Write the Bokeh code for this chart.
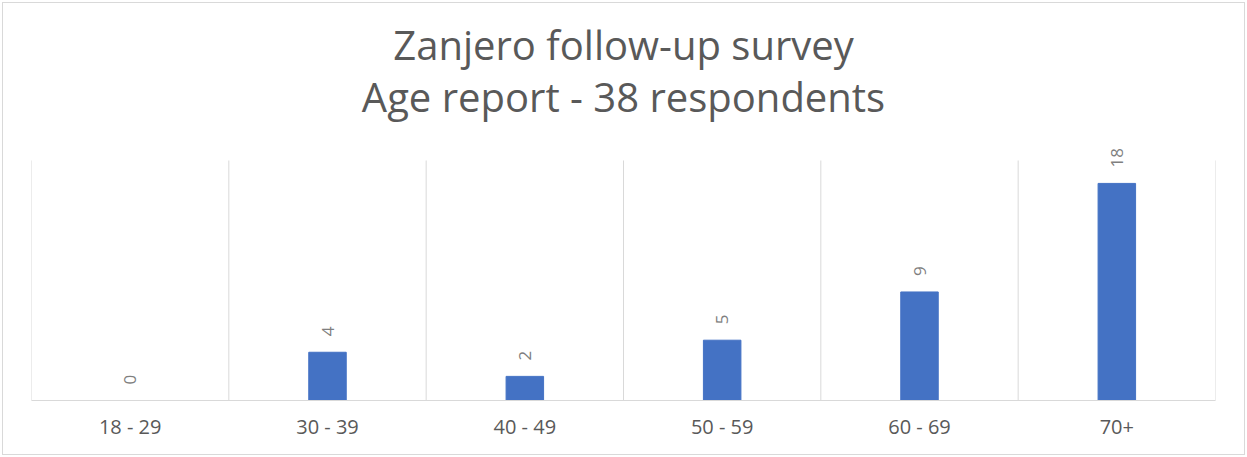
from bokeh.plotting import figure
from bokeh.models import Range1d, FixedTicker, Label
from bokeh.core.properties import value
from bokeh.embed import file_html
from bokeh.resources import INLINE
import math

categories = ["18 - 29", "30 - 39", "40 - 49", "50 - 59", "60 - 69", "70+"]
counts = [0, 4, 2, 5, 9, 18]
title_line1 = "Zanjero follow-up survey"
title_line2 = "Age report - 38 respondents"

FONT = "Open Sans"
TXT = "#595959"
GRID = "#d9d9d9"

n = len(categories)
xs = [i + 0.5 for i in range(n)]
bounds = list(range(n + 1))
GRID_TOP = 19.9

p = figure(width=1243, height=453, output_backend="svg", toolbar_location=None,
           x_range=Range1d(0, n), y_range=Range1d(0, 395 / 12),
           min_border_left=28, min_border_right=31, min_border_top=0, min_border_bottom=56)
p.margin = (2, 2, 2, 2)
p.styles = {"border": "1px solid #d9d9d9", "box-sizing": "border-box"}
p.outline_line_color = None
p.background_fill_color = "white"
p.border_fill_color = "white"

p.xgrid.grid_line_color = None
p.ygrid.grid_line_color = None
p.segment(x0=bounds, y0=[0] * len(bounds), x1=bounds, y1=[GRID_TOP] * len(bounds),
          line_color=GRID, line_width=1)

p.vbar(x=xs, top=counts, width=0.19, color="#4472C4")
p.text(x=xs, y=counts, text=[str(c) for c in counts], angle=math.pi / 2,
       text_align="left", text_baseline="middle", y_offset=-16,
       text_font=value(FONT), text_font_size="17px", text_color="#7f7f7f")

p.yaxis.visible = False

p.xaxis.ticker = FixedTicker(ticks=xs)
p.xaxis.major_label_overrides = {x: c for x, c in zip(xs, categories)}
p.xaxis.axis_line_color = GRID
p.xaxis.major_tick_line_color = None
p.xaxis.minor_tick_line_color = None
p.xaxis.major_label_text_font = FONT
p.xaxis.major_label_text_font_size = "20px"
p.xaxis.major_label_standoff = 6
p.xaxis.major_label_text_color = TXT

p.add_layout(Label(x=n / 2, y=29.5, text=title_line1, text_align="center", text_baseline="alphabetic",
                   text_font=FONT, text_font_size="40px", text_color=TXT))
p.add_layout(Label(x=n / 2, y=25.2, text=title_line2, text_align="center", text_baseline="alphabetic",
                   text_font=FONT, text_font_size="40px", text_color=TXT))

open("out.html", "w").write(file_html(p, INLINE))
